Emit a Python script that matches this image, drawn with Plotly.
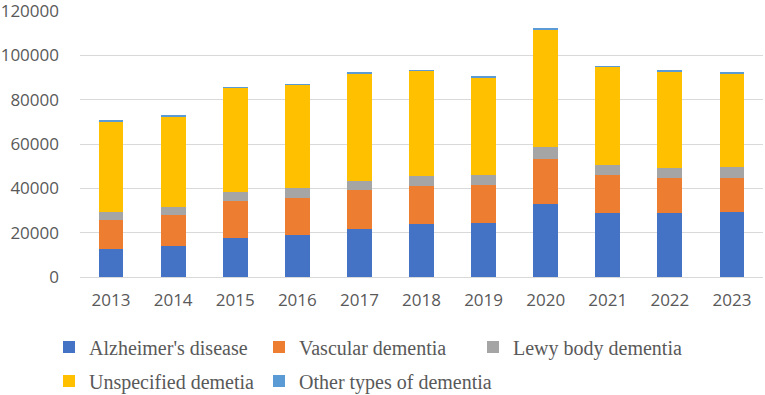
import plotly.graph_objects as go

years = ["2013", "2014", "2015", "2016", "2017", "2018", "2019", "2020", "2021", "2022", "2023"]
alzheimers = [12500, 13800, 17700, 18900, 21600, 23800, 24400, 32900, 29000, 28700, 29400]
vascular = [13400, 14400, 16600, 16900, 17500, 17400, 17200, 20200, 16900, 15800, 15500]
lewy = [3500, 3500, 4100, 4400, 4300, 4300, 4300, 5500, 4700, 4700, 4600]
unspecified = [41000, 40900, 47000, 46500, 48400, 47500, 44300, 53100, 44200, 43700, 42400]
other = [300, 300, 300, 400, 400, 400, 400, 500, 400, 400, 400]

series = [
    ("Alzheimer's disease", alzheimers, "#4472C4"),
    ("Vascular dementia", vascular, "#ED7D31"),
    ("Lewy body dementia", lewy, "#A5A5A5"),
    ("Unspecified demetia", unspecified, "#FFC000"),
    ("Other types of dementia", other, "#5B9BD5"),
]
# legend placement (container pixels): left x, centre y
legend_pos = [(49, 347), (259, 347), (473, 347), (49, 381), (259, 381)]

fig = go.Figure()
legends = {}
for i, ((name, vals, color), (lx, ly)) in enumerate(zip(series, legend_pos)):
    key = "legend" if i == 0 else f"legend{i + 1}"
    fig.add_trace(go.Bar(x=years, y=vals, name=name, marker_color=color,
                         marker_line_width=0, legend=key))
    legends[key] = dict(
        orientation="h", xref="container", yref="container",
        xanchor="left", yanchor="middle",
        x=lx / 765, y=1 - ly / 395,
        font=dict(family="Liberation Serif", size=20, color="#595959"),
        itemwidth=30, bgcolor="rgba(0,0,0,0)",
    )

fig.update_layout(
    width=765, height=395,
    margin=dict(l=80, r=2, t=11, b=118),
    plot_bgcolor="white", paper_bgcolor="white",
    barmode="stack", bargap=0.6,
    showlegend=True,
    **legends,
    xaxis=dict(
        tickfont=dict(family="Open Sans", size=17, color="#595959"),
        showgrid=False, showline=True, linecolor="#D9D9D9", linewidth=1,
        ticks="", ticklabelstandoff=8, automargin=False,
    ),
    yaxis=dict(
        range=[0, 120050], tickvals=[0, 20000, 40000, 60000, 80000, 100000, 120000],
        tickfont=dict(family="Open Sans", size=17, color="#595959"),
        showgrid=True, gridcolor="#D9D9D9", gridwidth=1.3,
        zeroline=False, showline=False, ticks="",
        tickformat="d", ticklabelstandoff=20, ticklabeloverflow="allow",
        automargin=False,
    ),
)

fig.write_html("out.html")
